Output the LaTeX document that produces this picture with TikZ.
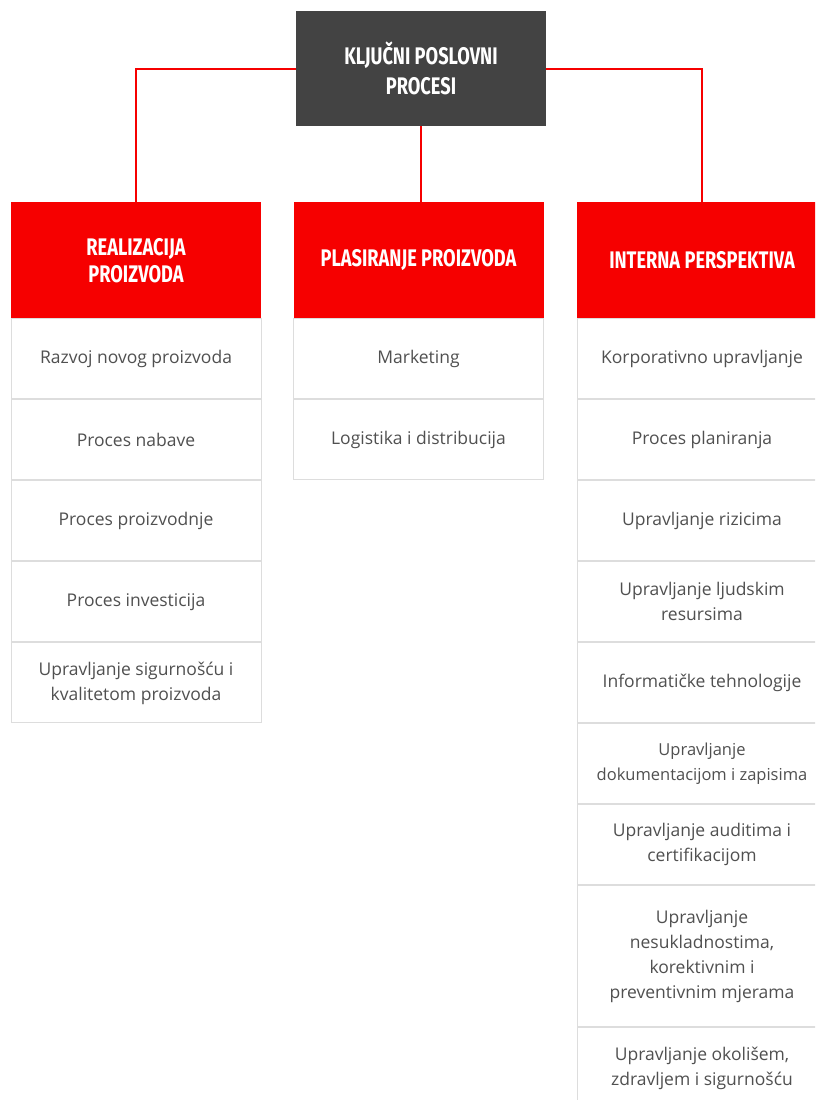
\documentclass[tikz,border=0pt]{standalone}
\usepackage{fontspec}
\setmainfont{Open Sans}
\newfontfamily\headfont[FakeStretch=0.76]{Fira Sans}
\usepackage{tikz}
\usetikzlibrary{positioning}

\definecolor{procred}{HTML}{F60000}
\definecolor{procdark}{HTML}{434343}
\definecolor{procline}{HTML}{DDDDDD}
\definecolor{proctext}{HTML}{505050}

\tikzset{
  topbox/.style={fill=procdark, text=white, minimum width=250pt, minimum height=115pt,
    inner sep=0pt, align=center, font=\headfont\bfseries\fontsize{24}{30}\selectfont},
  headbox/.style={fill=procred, text=white, minimum width=250pt, minimum height=116pt,
    inner sep=0pt, align=center, font=\headfont\bfseries\fontsize{24}{27}\selectfont},
  itembox/.style={draw=procline, line width=1pt, fill=white, text=proctext,
    minimum width=250pt, minimum height=80pt, inner sep=0pt, align=center,
    font=\fontsize{17.5}{25}\selectfont},
  link/.style={procred, line width=2pt}
}

\begin{document}
\begin{tikzpicture}[x=1pt,y=-1pt]
    \useasboundingbox (0,0) rectangle (815,1100);
    \clip (0,0) rectangle (815,1100);
    % vrh
    \node [topbox] (top) at (421,68.5) {KLJUČNI POSLOVNI\\PROCESI};
    % zaglavlja stupaca
    \node [headbox,anchor=north] (real) at (136,202) {REALIZACIJA\\PROIZVODA};
    \node [headbox,anchor=north] (plas) at (418.5,202) {PLASIRANJE PROIZVODA};
    \node [headbox,anchor=north] (intern) at (702,202) {INTERNA PERSPEKTIVA};
    % veze
    \draw [link] (top.west) -| (real.north);
    \draw [link] (top.south) -- (top.south |- plas.north);
    \draw [link] (top.east) -| (intern.north);
    % realizacija proizvoda
    \node [itembox,below=0pt of real] (real1) {Razvoj novog proizvoda};
    \node [itembox,below=0pt of real1] (real2) {Proces nabave};
    \node [itembox,below=0pt of real2] (real3) {Proces proizvodnje};
    \node [itembox,below=0pt of real3] (real4) {Proces investicija};
    \node [itembox,below=0pt of real4] (real5) {Upravljanje sigurnošću i\\kvalitetom proizvoda};
    % plasiranje proizvoda
    \node [itembox,below=0pt of plas] (plas1) {Marketing};
    \node [itembox,below=0pt of plas1] (plas2) {Logistika i distribucija};
    % interna perspektiva
    \node [itembox,below=0pt of intern] (int1) {Korporativno upravljanje};
    \node [itembox,below=0pt of int1] (int2) {Proces planiranja};
    \node [itembox,below=0pt of int2] (int3) {Upravljanje rizicima};
    \node [itembox,below=0pt of int3] (int4) {Upravljanje ljudskim\\resursima};
    \node [itembox,below=0pt of int4] (int5) {Informatičke tehnologije};
    \node [itembox,below=0pt of int5,font=\fontsize{16.5}{25}\selectfont] (int6) {Upravljanje\\dokumentacijom i zapisima};
    \node [itembox,below=0pt of int6] (int7) {Upravljanje auditima i\\certifikacijom};
    \node [itembox,below=0pt of int7,minimum height=141pt] (int8) {Upravljanje\\nesukladnostima,\\korektivnim i\\preventivnim mjerama};
    \node [itembox,below=0pt of int8] (int9) {Upravljanje okolišem,\\zdravljem i sigurnošću};
\end{tikzpicture}
\end{document}
